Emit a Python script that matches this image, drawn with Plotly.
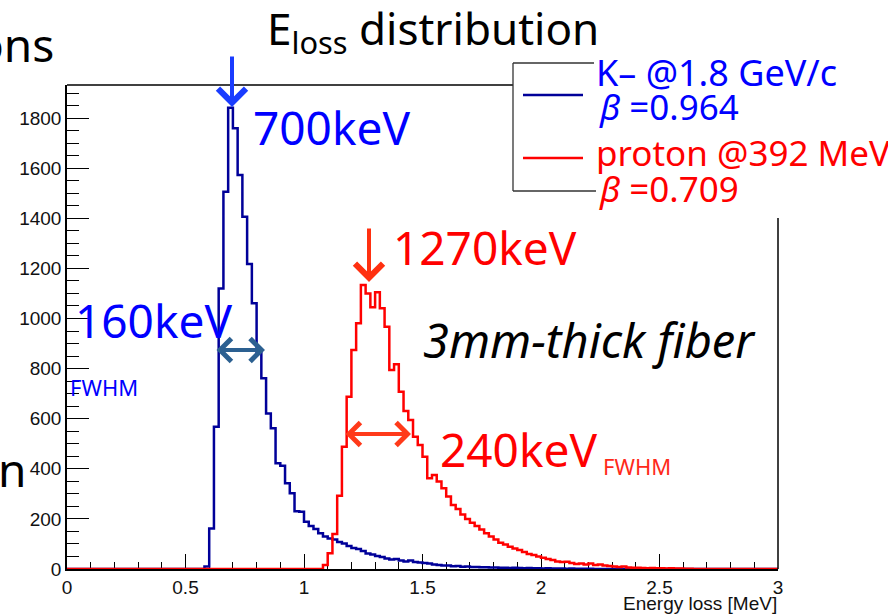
import numpy as np
import plotly.graph_objects as go

W, H = 888, 614

# ---------------- data ----------------
bin_width = 0.02
x_min, x_max = 0.0, 3.0

kaon_label = "K– @1.8 GeV/c"
kaon_beta = "<i>β</i> =0.964"
kaon_start = 0.58
kaon_counts = [10, 162, 568, 1120, 1506, 1841, 1759, 1573, 1406, 1217, 1061, 867,
               761, 621, 562, 422, 412, 342, 302, 231, 229, 189, 172, 160, 143, 130,
               122, 118, 108, 102, 92, 84, 80, 72, 62, 58, 52, 48, 42, 38, 40, 34,
               30, 34, 28, 26, 24, 22, 18, 16, 14, 14, 11, 12, 9, 10, 8, 8, 7, 7,
               6, 6, 5, 5, 4, 5, 4, 3, 4, 3, 3, 2, 3, 2, 2, 2, 1, 2, 1, 1, 1, 1, 0]

proton_label = "proton @392 MeV"
proton_beta = "<i>β</i> =0.709"
proton_start = 1.08
proton_counts = [16, 63, 140, 292, 488, 688, 874, 981, 1134, 1100, 1045, 1105, 1041,
                 967, 794, 817, 708, 631, 595, 528, 495, 448, 362, 375, 349, 322, 289,
                 255, 240, 218, 200, 185, 172, 158, 143, 130, 118, 105, 98, 89, 82,
                 76, 68, 60, 56, 50, 45, 40, 36, 30, 28, 29, 24, 20, 22, 18, 22, 16,
                 18, 14, 12, 10, 8, 10, 6, 5, 5, 4, 3, 4, 3, 3, 2, 3, 2, 2, 1, 1, 0]

x_ticks = [0, 0.5, 1, 1.5, 2, 2.5, 3]
x_tick_labels = ["0", "0.5", "1", "1.5", "2", "2.5", "3"]
y_ticks = [0, 200, 400, 600, 800, 1000, 1200, 1400, 1600, 1800]
y_tick_labels = [str(v) for v in y_ticks]
x_title = "Energy loss [MeV]"

# ---------------- helpers ----------------
n_bins = int(round((x_max - x_min) / bin_width))
edges = np.round(np.linspace(x_min, x_max, n_bins + 1), 4)


def full_hist(start, counts):
    arr = np.zeros(n_bins)
    i0 = int(round((start - x_min) / bin_width))
    arr[i0:i0 + len(counts)] = counts
    return np.append(arr, arr[-1])


def px(x):
    return x / W


def py(y):
    return 1 - y / H


NAVY = "#000099"
RED = "#ff0000"
BLUE_TXT = "#0000ff"
SANS = "Noto Sans"
ROOTF = "Liberation Sans"

fig = go.Figure()
fig.add_trace(go.Scatter(x=edges, y=full_hist(kaon_start, kaon_counts), mode="lines",
                         line=dict(shape="hv", color=NAVY, width=2.5), name=kaon_label,
                         showlegend=False))
fig.add_trace(go.Scatter(x=edges, y=full_hist(proton_start, proton_counts), mode="lines",
                         line=dict(shape="hv", color=RED, width=2.5), name=proton_label,
                         showlegend=False))

x0p, x1p = 67, 778
y0p, y1p = 569, 85

fig.update_layout(
    width=W, height=H, margin=dict(l=0, r=0, t=0, b=0, pad=0, autoexpand=False),
    paper_bgcolor="white", plot_bgcolor="white", showlegend=False,
    xaxis=dict(domain=[px(x0p), px(x1p)], range=[x_min, x_max], showgrid=False,
               zeroline=False, showline=True, linecolor="black", linewidth=1.5,
               ticks="inside", ticklen=15, tickwidth=1.3, tickcolor="black",
               tickvals=x_ticks, ticktext=x_tick_labels, layer="below traces",
               automargin=False,
               tickfont=dict(family=ROOTF, size=19, color="#111"),
               minor=dict(dtick=0.1, ticks="inside", ticklen=7, tickwidth=1.3,
                          tickcolor="black", showgrid=False)),
    yaxis=dict(domain=[py(y0p), py(y1p)], range=[0, 1932], showgrid=False,
               zeroline=False, showline=True, linecolor="black", linewidth=1.5,
               ticks="inside", ticklen=22, tickwidth=1.3, tickcolor="black",
               tickvals=y_ticks, ticktext=y_tick_labels, layer="below traces",
               automargin=False,
               tickfont=dict(family=ROOTF, size=19, color="#111"),
               minor=dict(dtick=50, ticks="inside", ticklen=12, tickwidth=1.3,
                          tickcolor="black", showgrid=False)),
)

shapes = [
    # frame top (partially hidden by legend) and right
    dict(type="line", xref="paper", yref="paper", x0=px(x0p), x1=px(513), y0=py(y1p), y1=py(y1p),
         line=dict(color="black", width=1.5)),
    dict(type="line", xref="paper", yref="paper", x0=px(x1p), x1=px(x1p), y0=py(218), y1=py(y0p),
         line=dict(color="black", width=1.5)),
    # legend box
    dict(type="line", xref="paper", yref="paper", x0=px(513), x1=px(513), y0=py(63), y1=py(191),
         line=dict(color="#333", width=1.3)),
    dict(type="line", xref="paper", yref="paper", x0=px(513), x1=px(594), y0=py(63), y1=py(63),
         line=dict(color="#333", width=1.3)),
    dict(type="line", xref="paper", yref="paper", x0=px(513), x1=px(596), y0=py(191), y1=py(191),
         line=dict(color="#333", width=1.3)),
    # legend samples
    dict(type="line", xref="paper", yref="paper", x0=px(523), x1=px(583), y0=py(95), y1=py(95),
         line=dict(color=NAVY, width=2.5)),
    dict(type="line", xref="paper", yref="paper", x0=px(523), x1=px(583), y0=py(158), y1=py(158),
         line=dict(color=RED, width=2.5)),
]
fig.update_layout(shapes=shapes)


def txt(text, x, y, size, color="black", anchor="left", family=SANS):
    fig.add_annotation(text=text, xref="paper", yref="paper", x=px(x), y=py(y),
                       xanchor=anchor, yanchor="middle", showarrow=False,
                       font=dict(family=family, size=size, color=color))


txt("E<sub>loss</sub> distribution", 265, 30, 44)
txt("ons", 56, 44, 46, anchor="right")
txt("n", 28, 469, 46, anchor="right")
txt("700keV", 251, 127, 46, BLUE_TXT)
txt("1270keV", 391, 247, 46, RED)
txt("160keV", 73, 320, 46, BLUE_TXT)
txt("FWHM", 68, 387, 22, BLUE_TXT)
txt("240keV", 438, 449, 46, RED)
txt("FWHM", 601, 466, 22, "#ff2a1a")
txt("<i>3mm-thick fiber</i>", 421, 340, 47)
txt(kaon_label, 594, 72, 36, BLUE_TXT)
txt(kaon_beta, 597, 107, 35, BLUE_TXT)
txt(proton_label, 594, 152, 35, RED)
txt(proton_beta, 597, 188, 35, RED)
txt(x_title, 779, 603, 19, "#111", anchor="right", family=ROOTF)


def arrow(xh, yh, dx, dy, color, both=False, width=4, size=1.1):
    fig.add_annotation(xref="paper", yref="paper", x=px(xh), y=py(yh), ax=dx, ay=dy,
                       axref="pixel", ayref="pixel", text="", showarrow=True,
                       arrowhead=4, startarrowhead=4, arrowsize=size, startarrowsize=size,
                       arrowwidth=width, arrowcolor=color,
                       arrowside="end+start" if both else "end")


arrow(232, 107, 0, -52, "#1a3cff", size=1.35)
arrow(369, 282, 0, -55, "#ff3010", size=1.35)
arrow(265, 350, -50, 0, "#2c6091", both=True)
arrow(411, 434, -67, 0, "#ff3a1a", both=True)

fig.write_html("out.html")
